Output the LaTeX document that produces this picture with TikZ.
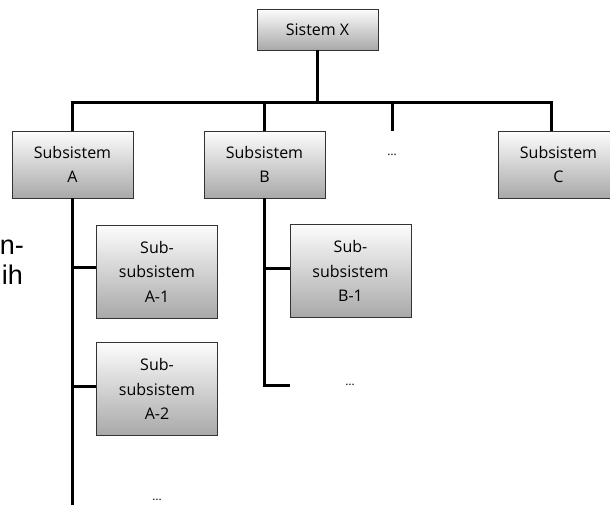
\documentclass[tikz,border=0pt]{standalone}
\usepackage{fontspec}
\setmainfont{Open Sans}
\newfontfamily\slidefont{Liberation Sans}
\begin{document}
\begin{tikzpicture}[x=1pt,y=-1pt,
  boxbase/.style={draw=black!80, line width=0.8pt, top color=gray!2, bottom color=gray!68,
    align=center, inner sep=0pt, text=black, font=\fontsize{16}{24.5}\selectfont},
  topbox/.style={boxbase, minimum width=121pt, minimum height=41pt},
  subbox/.style={boxbase, minimum width=121pt, minimum height=67pt},
  subsubbox/.style={boxbase, minimum width=121pt, minimum height=93pt},
  conn/.style={line width=3pt, black},
  dots/.style={font=\fontsize{12}{14}\selectfont, text=black, inner sep=0pt},
  frag/.style={font=\slidefont\fontsize{27}{30}\selectfont, anchor=east, inner sep=0pt}]
\useasboundingbox (0,0) rectangle (610,505);
\begin{scope}
\clip (0,0) rectangle (610,505);
% nodes
\node[topbox] (X) at (317.5,29.5) {Sistem X};
\node[subbox] (A) at (72.5,164.5) {Subsistem\\A};
\node[subbox] (B) at (264.5,164.5) {Subsistem\\B};
\node[subbox] (C) at (558.5,164.5) {Subsistem\\C};
\node[dots] (dtop) at (392,155) {\dots};
\node[subsubbox] (A1) at (157,271.5) {Sub-\\subsistem\\A-1};
\node[subsubbox] (A2) at (157,389) {Sub-\\subsistem\\A-2};
\node[subsubbox] (B1) at (350.5,271) {Sub-\\subsistem\\B-1};
\node[dots] (dA) at (157,500) {\dots};
\node[dots] (dB) at (350,385) {\dots};
\node[frag] (f1) at (24,247) {n-};
\node[frag] (f2) at (23,275) {ih};
% coordinates
\coordinate (bar) at (0,103);
\coordinate (cC) at (551,131);
\coordinate (tick) at (392,131);
\coordinate (aend) at (72.5,506);
\coordinate (bend) at (290,385);
% connectors
\draw[conn] (X.south) -- (X.south |- bar);
\draw[conn] (A.north) -- (A.north |- bar) -- (cC |- bar) -- (cC);
\draw[conn] (B.north) -- (B.north |- bar);
\draw[conn] (tick) -- (tick |- bar);
\draw[conn] (A.south) -- (aend);
\draw[conn] ([yshift=4pt]A1.west) -- ([yshift=4pt]A1.west -| A.south);
\draw[conn] ([yshift=3pt]A2.west) -- ([yshift=3pt]A2.west -| A.south);
\draw[conn] ([yshift=3pt]B1.west) -- ([yshift=3pt]B1.west -| B.south);
\draw[conn] (B.south) -- (B.south |- bend) -- (bend);
\end{scope}
\end{tikzpicture}
\end{document}
